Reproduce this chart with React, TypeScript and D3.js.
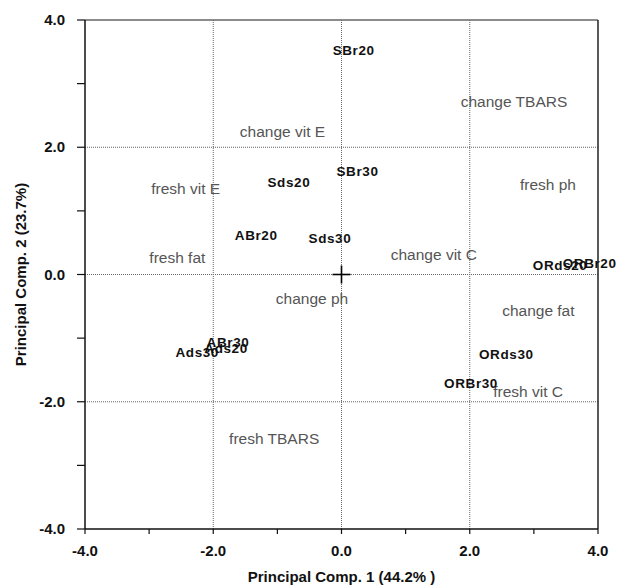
import React from "react";
import * as d3 from "d3";

const obsLabels = ["SBr20", "SBr30", "Sds20", "ABr20", "Sds30", "ORds20", "ORBr20", "ORds30", "ORBr30", "Ads20", "ABr30", "Ads30"];
const obsPC1 = [0.19, 0.25, -0.82, -1.33, -0.18, 3.41, 3.87, 2.57, 2.02, -1.8, -1.77, -2.25];
const obsPC2 = [3.53, 1.63, 1.45, 0.62, 0.57, 0.15, 0.18, -1.25, -1.71, -1.15, -1.06, -1.22];

const varLabels = ["change TBARS", "change vit E", "fresh vit E", "fresh ph", "fresh fat", "change ph", "change vit C", "change fat", "fresh vit C", "fresh TBARS"];
const varPC1 = [2.69, -0.92, -2.43, 3.22, -2.56, -0.46, 1.44, 3.07, 2.91, -1.05];
const varPC2 = [2.71, 2.24, 1.34, 1.41, 0.26, -0.38, 0.3, -0.58, -1.85, -2.59];

const majorTicks = [-4, -2, 0, 2, 4];
const minorTicks = [-3, -1, 1, 3];
const gridValues = [-2, 0, 2];
const xTitle = "Principal Comp. 1 (44.2% )";
const yTitle = "Principal Comp. 2 (23.7%)";

const W = 618;
const H = 585;
const left = 85, right = 598, top = 20, bottom = 529;
const font = "'Liberation Sans', Arial, Helvetica, sans-serif";

export default function App() {
  const x = d3.scaleLinear().domain([-4, 4]).range([left, right]);
  const y = d3.scaleLinear().domain([-4, 4]).range([bottom, top]);
  const f = d3.format(".1f");
  const fmt = (v: number) => f(v).replace("\u2212", "-");
  const allTicks = [...majorTicks, ...minorTicks];

  return (
    <svg width={W} height={H} style={{ position: "absolute", left: 0, top: 0, background: "#fff" }} fontFamily={font}>
      <rect x={0} y={0} width={W} height={H} fill="#fff" />
      {gridValues.map((v) => (
        <g key={"g" + v}>
          <line x1={x(v)} x2={x(v)} y1={top} y2={bottom} stroke="#666" strokeWidth={1} strokeDasharray="1,1" />
          <line x1={left} x2={right} y1={y(v)} y2={y(v)} stroke="#666" strokeWidth={1} strokeDasharray="1,1" />
        </g>
      ))}
      <line x1={left} x2={right} y1={top} y2={top} stroke="#666" strokeWidth={1.5} />
      <line x1={right} x2={right} y1={top} y2={bottom} stroke="#222" strokeWidth={1.5} />
      <line x1={left} x2={left} y1={top} y2={bottom} stroke="#111" strokeWidth={1.5} />
      <line x1={left} x2={right} y1={bottom} y2={bottom} stroke="#111" strokeWidth={1.5} />
      {allTicks.map((t) => (
        <g key={"t" + t}>
          <line x1={x(t)} x2={x(t)} y1={bottom} y2={bottom + 5} stroke="#111" strokeWidth={1.2} />
          <line x1={left - 8} x2={left} y1={y(t)} y2={y(t)} stroke="#111" strokeWidth={1.2} />
        </g>
      ))}
      {majorTicks.map((t) => (
        <g key={"l" + t} fontWeight="bold" fontSize={15} fill="#111">
          <text x={x(t)} y={556} textAnchor="middle">{fmt(t)}</text>
          <text x={65} y={y(t) + 5} textAnchor="end">{fmt(t)}</text>
        </g>
      ))}
      <line x1={x(0) - 9} x2={x(0) + 9} y1={y(0)} y2={y(0)} stroke="#000" strokeWidth={1.6} />
      <line x1={x(0)} x2={x(0)} y1={y(0) - 9} y2={y(0) + 9} stroke="#000" strokeWidth={1.6} />
      {varLabels.map((l, i) => (
        <text key={l} x={x(varPC1[i])} y={y(varPC2[i]) + 5} textAnchor="middle" fontSize={15.5} fill="#555">{l}</text>
      ))}
      {obsLabels.map((l, i) => (
        <text key={l} x={x(obsPC1[i])} y={y(obsPC2[i]) + 5} textAnchor="middle" fontSize={13.5} letterSpacing={0.6} fontWeight="bold" fill="#111">{l}</text>
      ))}
      <text x={(left + right) / 2} y={582} textAnchor="middle" fontSize={15} fontWeight="bold" fill="#111">{xTitle}</text>
      <text transform={`translate(26, ${(top + bottom) / 2}) rotate(-90)`} textAnchor="middle" fontSize={15} fontWeight="bold" fill="#111">{yTitle}</text>
    </svg>
  );
}
